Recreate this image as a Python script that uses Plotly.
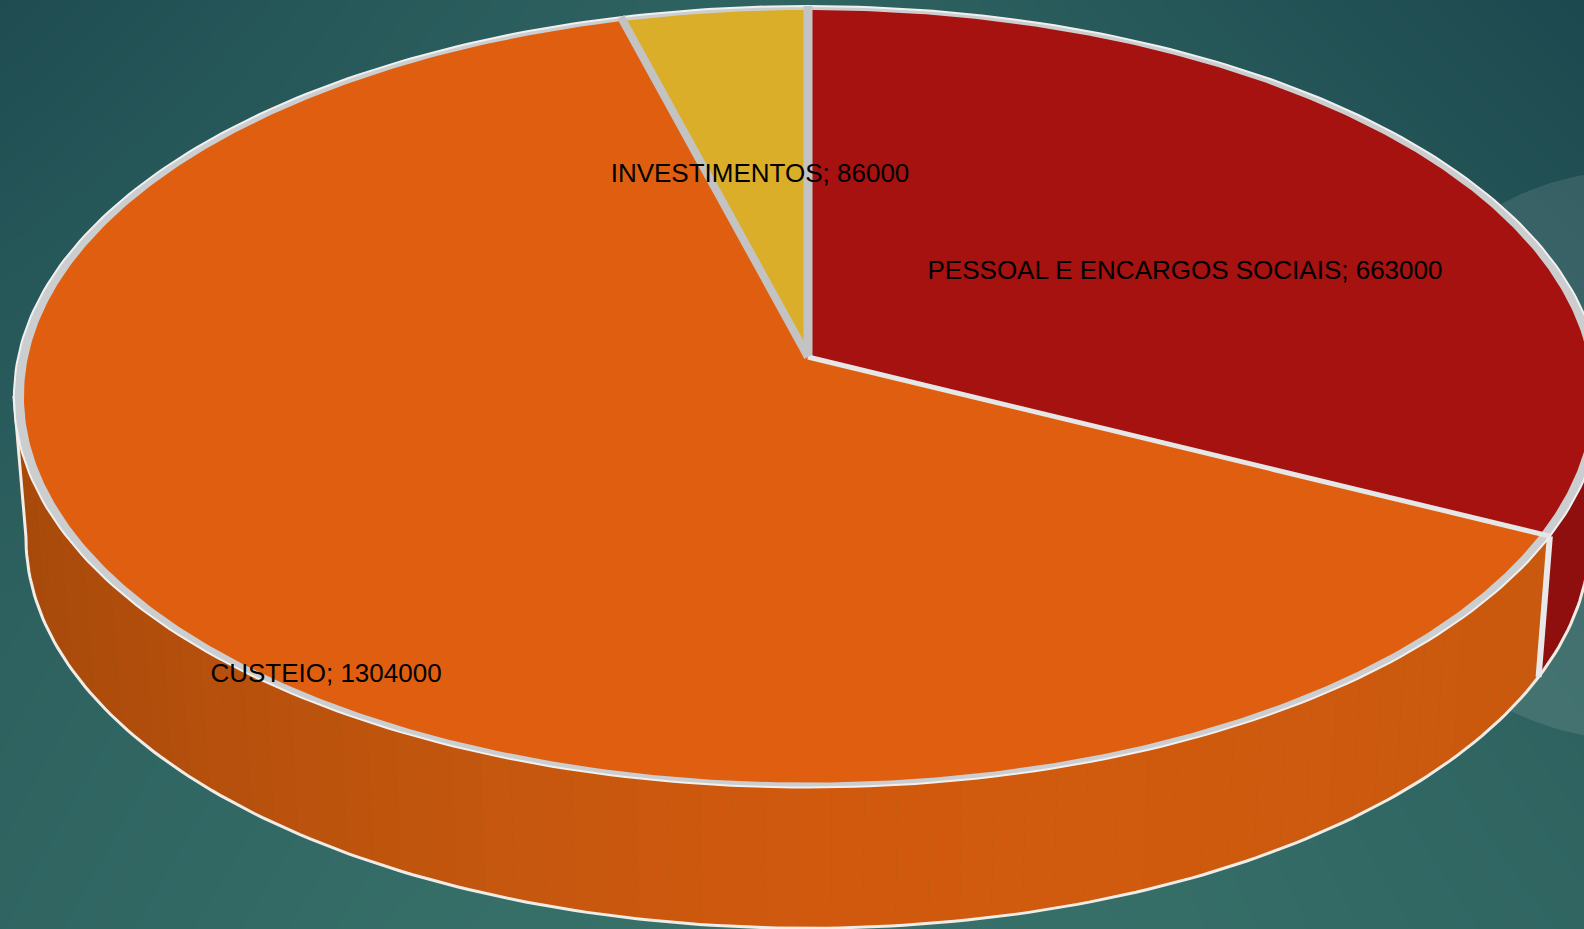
import numpy as np
import plotly.graph_objects as go

# ---- data
categories = ["PESSOAL E ENCARGOS SOCIAIS", "CUSTEIO", "INVESTIMENTOS"]
values = [663000, 1304000, 86000]
top_colors = ["#A51210", "#DF5E10", "#DAAE28"]
label_x = [1185, 326, 760]
label_y = [272, 675, 175]

# background shade grid, read by eye (0 = darkest teal, 1 = lightest teal)
bg_x = [0, 396, 792, 1188, 1584]
bg_y = [0, 310, 620, 929]
bg_shade = [
    [0.12, 0.45, 0.70, 0.35, 0.03],
    [0.40, 0.62, 0.80, 0.60, 0.28],
    [0.62, 0.80, 0.95, 0.85, 0.60],
    [0.70, 0.90, 1.00, 0.90, 0.72],
]

# wall shading knots: x position -> colour
wall_x = [30, 200, 500, 800, 1100, 1540]
wall_rgb = [(168, 74, 11), (181, 79, 12), (197, 87, 14), (208, 89, 14), (208, 90, 14), (201, 89, 14)]
red_wall = "#8F0F0F"

# pie geometry (pixels)
CX, K = 808.0, 0.1017
TOP_C = 357.0
BOT_C = 498.0


def project(theta_deg, a, b, c):
    t = np.radians(theta_deg)
    u, v = np.sin(t), np.cos(t)
    w = 1 + K * v
    return CX + a * u / w, c - b * v / w


def outer_top(th):
    return project(th, 790, 386.7, TOP_C)


def inner_top(th):
    return project(th, 780, 382.3, TOP_C)


def bottom(th):
    return project(th, 778, 386.5, BOT_C)


total = sum(values)
edges = np.cumsum([0] + values) / total * 360.0
fig = go.Figure()

# background
fig.add_trace(go.Heatmap(x=bg_x, y=bg_y, z=bg_shade, zsmooth="best", showscale=False, hoverinfo="skip",
                         zmin=0, zmax=1, colorscale=[[0, "#1B474E"], [1, "#38716A"]]))
# translucent disc of the slide theme
t = np.linspace(0, 2 * np.pi, 200)
fig.add_trace(go.Scatter(x=1636 + 285 * np.cos(t), y=455 + 285 * np.sin(t), mode="lines", fill="toself",
                         fillcolor="rgba(255,255,255,0.10)", line=dict(width=0), hoverinfo="skip"))

# walls
seam = edges[1]
TH0, TH1 = 95.7, 264.3


def band(th_a, th_b, color):
    ths = np.linspace(th_a, th_b, 4)
    xt, yt = outer_top(ths)
    xb, yb = bottom(ths)
    fig.add_trace(go.Scatter(x=np.r_[xt, xb[::-1]], y=np.r_[yt, yb[::-1]], mode="lines", fill="toself",
                             fillcolor=color, line=dict(width=1, color=color), hoverinfo="skip"))


band(TH0, seam, red_wall)
wall_edges = np.linspace(seam, TH1, 70)
for a, b_ in zip(wall_edges[:-1], wall_edges[1:]):
    xm, _ = bottom((a + b_) / 2)
    rgb = [int(round(np.interp(xm, wall_x, [c[i] for c in wall_rgb]))) for i in range(3)]
    band(a, b_, "rgb(%d,%d,%d)" % tuple(rgb))

# wall outlines
ths = np.linspace(TH0, TH1, 200)
xb, yb = bottom(ths)
xt, yt = outer_top(TH1)
xbb, ybb = bottom(TH1)
fig.add_trace(go.Scatter(x=np.r_[xb, xt], y=np.r_[yb, yt], mode="lines", line=dict(color="#F1ECE6", width=3), hoverinfo="skip"))
xs0, ys0 = outer_top(seam)
xs1, ys1 = bottom(seam)
fig.add_trace(go.Scatter(x=[xs0, xs1], y=[ys0, ys1], mode="lines", line=dict(color="#E8E8EA", width=6), hoverinfo="skip"))

# rim
ths = np.linspace(0, 360, 361)
xo, yo = outer_top(ths)
fig.add_trace(go.Scatter(x=xo, y=yo, mode="lines", fill="toself", fillcolor="#CBCDCE",
                         line=dict(color="#F0F0F0", width=2), hoverinfo="skip"))

# slices
for i, col in enumerate(top_colors):
    th = np.linspace(edges[i], edges[i + 1], max(int(edges[i + 1] - edges[i]) * 2, 8))
    xi, yi = inner_top(th)
    fig.add_trace(go.Scatter(x=np.r_[CX, xi, CX], y=np.r_[TOP_C, yi, TOP_C], mode="lines", fill="toself",
                             fillcolor=col, line=dict(width=0, color=col), hoverinfo="skip"))

# radial separators
sep_col = ["#C3C3C4", "#E6E6E6", "#C3C3C4"]
sep_w = [9, 5, 8]
for e, col, w in zip(edges[:3], sep_col, sep_w):
    xe, ye = outer_top(e)
    fig.add_trace(go.Scatter(x=[CX, xe], y=[TOP_C, ye], mode="lines", line=dict(color=col, width=w), hoverinfo="skip"))

# labels
fig.add_trace(go.Scatter(x=label_x, y=label_y, mode="text",
                         text=["%s; %d" % (c, v) for c, v in zip(categories, values)],
                         textposition="middle center", hoverinfo="skip",
                         textfont=dict(family="Liberation Sans", size=26, color="#000000")))

fig.update_layout(width=1584, height=929, margin=dict(l=0, r=0, t=0, b=0), showlegend=False,
                  paper_bgcolor="#2C5F5F", plot_bgcolor="#2C5F5F",
                  xaxis=dict(range=[0, 1584], visible=False, fixedrange=True),
                  yaxis=dict(range=[929, 0], visible=False, fixedrange=True))
fig.write_html("out.html", config=dict(displayModeBar=False),
               post_script="document.body.style.margin='0';document.body.style.overflow='hidden';")
